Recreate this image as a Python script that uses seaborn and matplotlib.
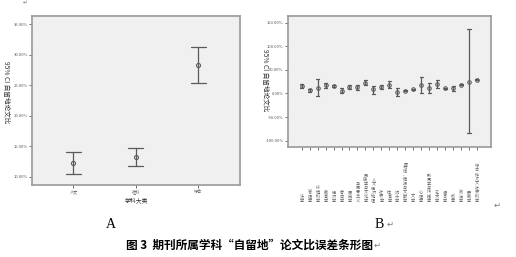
import numpy as np
import pandas as pd
import matplotlib
matplotlib.use("Agg")
import matplotlib.pyplot as plt
import seaborn as sns
from matplotlib.ticker import PercentFormatter, MultipleLocator

sns.set_theme(style="white")
plt.rcParams['font.family'] = ['Noto Sans CJK SC', 'DejaVu Sans']
plt.rcParams['axes.unicode_minus'] = False

# ---- Panel A data (percent) ----
cats_a = ["人文", "社科", "综合"]
mean_a = [12.25, 13.2, 28.3]
lo_a = [10.4, 11.75, 25.3]
hi_a = [14.1, 14.65, 31.2]

# ---- Panel B data (percent) ----
cats_b = ["法学", "管理学", "环境科学", "教育学", "经济学", "考古学", "历史学",
          "马克思主义", "民族学与文化学", "人文经济地理", "社会学", "体育学", "统计学",
          "图书馆、情报与文献学", "文学", "心理学", "新闻学与传播学", "艺术学", "语言学",
          "哲学", "政治学", "宗教学", "综合性人文社会科学"]
mean_b = [16, 7, 12.7, 17, 15.5, 6, 13.4, 13.4, 22.6, 8.5, 13.4, 18.4, 3.5,
          5.6, 8.5, 18, 12, 20.5, 10.6, 10.6, 19, 25.4, 29]
lo_b = [12, 4, -6, 12, 13.5, 1.4, 9.5, 7.8, 17, -0.7, 9, 10.6, -5,
        4.6, 7.5, 2, 2, 12, 9.6, 6, 17, -84, 28]
hi_b = [20, 10, 30, 22, 17.5, 10.6, 17.5, 19, 29, 16, 18, 27.5, 12,
        6.6, 9.5, 34.6, 22, 29, 11.6, 16, 21, 136, 30]


def long_df(cats, lo, mean, hi):
    rows = []
    for c, a, m, b in zip(cats, lo, mean, hi):
        for v in (a, m, b):
            rows.append((c, v))
    return pd.DataFrame(rows, columns=["cat", "val"])


def minmax(v):
    return (np.min(v), np.max(v))


fig = plt.figure(figsize=(5.16, 2.57), dpi=100)
fig.patch.set_facecolor("white")

W, H = 516.0, 257.0
axA = fig.add_axes([32.3 / W, (H - 185) / H, 207.7 / W, 169.3 / H])
axB = fig.add_axes([288 / W, (H - 146.7) / H, 203.3 / W, 131 / H])

line_col = "#5a5a5a"
for ax, cats, lo, mean, hi, cap, ms in (
        (axA, cats_a, lo_a, mean_a, hi_a, 0.24, 3.0),
        (axB, cats_b, lo_b, mean_b, hi_b, 0.38, 2.6)):
    df = long_df(cats, lo, mean, hi)
    sns.pointplot(data=df, x="cat", y="val", order=cats, estimator="median",
                  errorbar=minmax, linestyle="none", marker="o", color=line_col,
                  capsize=cap, err_kws={"linewidth": 0.9}, markersize=ms,
                  markerfacecolor="#d8d8d8", markeredgecolor=line_col,
                  markeredgewidth=0.7, ax=ax)
    ax.set_facecolor("#f0f0f0")
    for s in ax.spines.values():
        s.set_visible(True)
        s.set_color("#9a9a9a")
        s.set_linewidth(1.2)
    ax.yaxis.set_major_formatter(PercentFormatter(decimals=2))
    ax.tick_params(axis="both", which="major", direction="out", length=2.2,
                   width=0.6, color="#555555", labelsize=3.0,
                   labelcolor="#555555", pad=1, left=True, bottom=True)

# Panel A axes
axA.set_xlim(-0.66, 2.67)
axA.set_ylim(8.64, 36.4)
axA.yaxis.set_major_locator(MultipleLocator(5))
axA.set_xlabel("学科大类", fontsize=4.2, labelpad=2, color="#333333")
axA.set_ylabel("95% CI 自留地论文比", fontsize=4.8, color="#333333",
               rotation=270, va="center")
axA.yaxis.set_label_coords(-0.125, 0.55)

# Panel B axes
axB.set_xlim(-1.72, 23.8)
axB.set_ylim(-112.7, 164.8)
axB.yaxis.set_major_locator(MultipleLocator(50))
axB.set_xlabel("")
axB.set_ylabel("95% CI 自留地论文比", fontsize=4.8, color="#333333",
               rotation=270, va="center")
axB.yaxis.set_label_coords(-0.115, 0.51)
axB.set_xticks(range(len(cats_b)))
axB.set_xticklabels(["\n".join(list(c)) for c in cats_b], fontsize=3.0,
                    linespacing=1.0, color="#666666")
axB.tick_params(axis="x", pad=38)
for t in axB.get_xticklabels():
    t.set_verticalalignment("bottom")

# Panel letters and caption
fig.text(111 / W, 1 - 224 / H, "A", fontsize=10, family="Liberation Serif",
         ha="center", va="center", color="black")
fig.text(379 / W, 1 - 224 / H, "B", fontsize=10, family="Liberation Serif",
         ha="center", va="center", color="black")
fig.text(387 / W, 1 - 224 / H, "↵", fontsize=6, family="DejaVu Sans",
         ha="left", va="center", color="#777777")
fig.text(249 / W, 1 - 245 / H, "图 3  期刊所属学科“自留地”论文比误差条形图",
         fontsize=8.4, fontweight="bold", ha="center", va="center",
         color="black")
fig.text(374 / W, 1 - 245 / H, "↵", fontsize=6, family="DejaVu Sans",
         ha="left", va="center", color="#777777")
fig.text(25 / W, 1 - 3 / H, "↵", fontsize=4, family="DejaVu Sans",
         ha="center", va="center", color="#777777")
fig.text(497 / W, 1 - 205 / H, "↵", fontsize=6, family="DejaVu Sans",
         ha="center", va="center", color="#777777")

fig.savefig("out.png", dpi=100, facecolor="white")
